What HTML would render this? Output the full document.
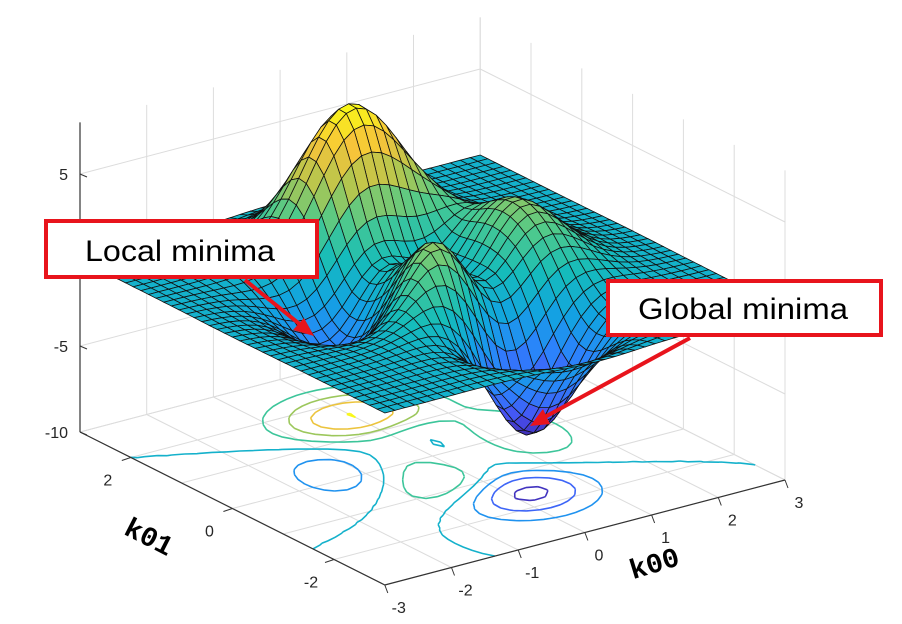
<!DOCTYPE html>
<html><head><meta charset="utf-8"><style>
body{margin:0;background:#fff}
svg{display:block;font-family:"Liberation Sans",sans-serif}
</style></head><body>
<svg id="chart" width="902" height="624" viewBox="0 0 902 624">
<g id="grid"></g>
<g id="contours"></g>
<g id="surf"></g>
<g id="axes"></g>
<text x="145" y="545" transform="rotate(27 145 545)" text-anchor="middle" font-family="Liberation Mono,monospace" font-weight="bold" font-size="28" fill="#000">k01</text>
<text x="657" y="572" transform="rotate(-17 657 572)" text-anchor="middle" font-family="Liberation Mono,monospace" font-weight="bold" font-size="28" fill="#000">k00</text>
<g>
<line x1="245" y1="280" x2="302" y2="326" stroke="#e8141c" stroke-width="4"/>
<polygon points="314,336 293,330 304,318" fill="#e8141c"/>
<rect x="46" y="221" width="271" height="56" fill="#fff" stroke="#e8141c" stroke-width="4"/>
<text x="85" y="261" font-size="30" textLength="190" lengthAdjust="spacingAndGlyphs" fill="#000">Local minima</text>
</g>
<g>
<line x1="690" y1="338" x2="543" y2="418" stroke="#e8141c" stroke-width="4"/>
<polygon points="530,426 543,409 550,424" fill="#e8141c"/>
<rect x="608" y="281" width="273" height="54" fill="#fff" stroke="#e8141c" stroke-width="4"/>
<text x="638" y="319" font-size="30" textLength="210" lengthAdjust="spacingAndGlyphs" fill="#000">Global minima</text>
</g>
</svg>
<script>
const xTicks=[-3,-2,-1,0,1,2,3];
const yTicks=[-2,0,2];
const yGrid=[-3,-2,-1,0,1,2,3];
const zTicks=[-10,-5,5];
const zGrid=[-10,-5,0,5];
const contourLevels=[-6,-4,-2,0,2,4,6,8];
const N=41;
const NS="http://www.w3.org/2000/svg";
function P(x,y,z){return [432.5+66.7*x-50.8*y, 456-17.5*x-25.5*y-17.2*(z+10)];}
function peaks(x,y){return 3*Math.pow(1-x,2)*Math.exp(-x*x-Math.pow(y+1,2))-10*(x/5-Math.pow(x,3)-Math.pow(y,5))*Math.exp(-x*x-y*y)-(1/3)*Math.exp(-Math.pow(x+1,2)-y*y);}
const stops=[[62,38,168],[72,82,244],[44,130,252],[18,163,225],[21,188,187],[80,202,138],[180,198,78],[246,196,58],[249,251,21]];
const zmin=-6.55,zmax=8.1;
function col(z){let t=Math.max(0,Math.min(1,(z-zmin)/(zmax-zmin)))*8;let i=Math.min(7,Math.floor(t)),f=t-i;const a=stops[i],b=stops[i+1];return 'rgb('+a.map((v,k)=>Math.round(v+(b[k]-v)*f)).join(',')+')';}
function el(tag,attrs,parent){const e=document.createElementNS(NS,tag);for(const k in attrs)e.setAttribute(k,attrs[k]);parent.appendChild(e);return e;}
function line(p,q,stroke,w,parent,name){const e=el('line',{x1:p[0],y1:p[1],x2:q[0],y2:q[1],stroke:stroke,'stroke-width':w},parent);

return e;}
const grid=document.getElementById('grid'),gc='#dcdcdc';
xTicks.forEach(x=>{line(P(x,-3,-10),P(x,3,-10),gc,1,grid,'floor-gridline-x');line(P(x,3,-10),P(x,3,8),gc,1,grid,'wall-gridline-x');});
yGrid.forEach(y=>{line(P(-3,y,-10),P(3,y,-10),gc,1,grid,'floor-gridline-y');line(P(3,y,-10),P(3,y,8),gc,1,grid,'wall-gridline-y');});
zGrid.forEach(z=>{line(P(-3,3,z),P(3,3,z),gc,1,grid,'wall-gridline-z');line(P(3,3,z),P(3,-3,z),gc,1,grid,'wall-gridline-z');});
const xs=[],Z=[];for(let i=0;i<N;i++)xs.push(-3+6*i/(N-1));
for(let j=0;j<N;j++){Z.push([]);for(let i=0;i<N;i++)Z[j].push(peaks(xs[i],xs[j]));}
const cg=document.getElementById('contours');
contourLevels.forEach(L=>{let d='';
for(let j=0;j<N-1;j++)for(let i=0;i<N-1;i++){
const c=[[xs[i],xs[j],Z[j][i]],[xs[i+1],xs[j],Z[j][i+1]],[xs[i+1],xs[j+1],Z[j+1][i+1]],[xs[i],xs[j+1],Z[j+1][i]]];
const pts=[];for(let k=0;k<4;k++){const a=c[k],b=c[(k+1)%4];if((a[2]-L)*(b[2]-L)<0){const t=(L-a[2])/(b[2]-a[2]);pts.push(P(a[0]+(b[0]-a[0])*t,a[1]+(b[1]-a[1])*t,-10));}}
for(let k=0;k+1<pts.length;k+=2)d+='M'+pts[k][0].toFixed(1)+' '+pts[k][1].toFixed(1)+'L'+pts[k+1][0].toFixed(1)+' '+pts[k+1][1].toFixed(1);}
if(d){const e=el('path',{d:d,fill:'none',stroke:col(L),'stroke-width':1.6},cg);

}});
const sg=document.getElementById('surf');const faces=[];
for(let j=0;j<N-1;j++)for(let i=0;i<N-1;i++){const cx=(xs[i]+xs[i+1])/2,cy=(xs[j]+xs[j+1])/2;faces.push([0.61*cx+0.79*cy,i,j]);}
faces.sort((a,b)=>b[0]-a[0]);
faces.forEach(f=>{const i=f[1],j=f[2];const v=[[i,j],[i+1,j],[i+1,j+1],[i,j+1]].map(q=>P(xs[q[0]],xs[q[1]],Z[q[1]][q[0]]));
const zc=(Z[j][i]+Z[j][i+1]+Z[j+1][i]+Z[j+1][i+1])/4;
const e=el('polygon',{points:v.map(p=>p[0].toFixed(1)+','+p[1].toFixed(1)).join(' '),fill:col(zc),stroke:'#111','stroke-width':0.8},sg);

});
const ax=document.getElementById('axes'),ac='#333';
line(P(-3,3,-10),P(-3,3,8),ac,1.2,ax,'z-axis-line');
line(P(-3,3,-10),P(-3,-3,-10),ac,1.2,ax,'k01-axis-line');
line(P(-3,-3,-10),P(3,-3,-10),ac,1.2,ax,'k00-axis-line');
function txt(s,x,y,anchor,name){const e=el('text',{x:x,y:y,'text-anchor':anchor,'font-size':16,fill:'#262626'},ax);e.textContent=s;

}
zTicks.forEach(z=>{const p=P(-3,3,z);line(p,[p[0]+7,p[1]+3],ac,1,ax,'z-tick');txt(String(z),p[0]-12,p[1]+6,'end','z-tick-label');});
yTicks.forEach(y=>{const p=P(-3,y,-10);line(p,[p[0]-9,p[1]+3],ac,1,ax,'k01-tick');txt(String(y),p[0]-23,p[1]+28,'middle','k01-tick-label');});
xTicks.forEach(x=>{const p=P(x,-3,-10);line(p,[p[0]+3,p[1]+8],ac,1,ax,'k00-tick');txt(String(x),p[0]+14,p[1]+28,'middle','k00-tick-label');});
</script>
</body></html>
